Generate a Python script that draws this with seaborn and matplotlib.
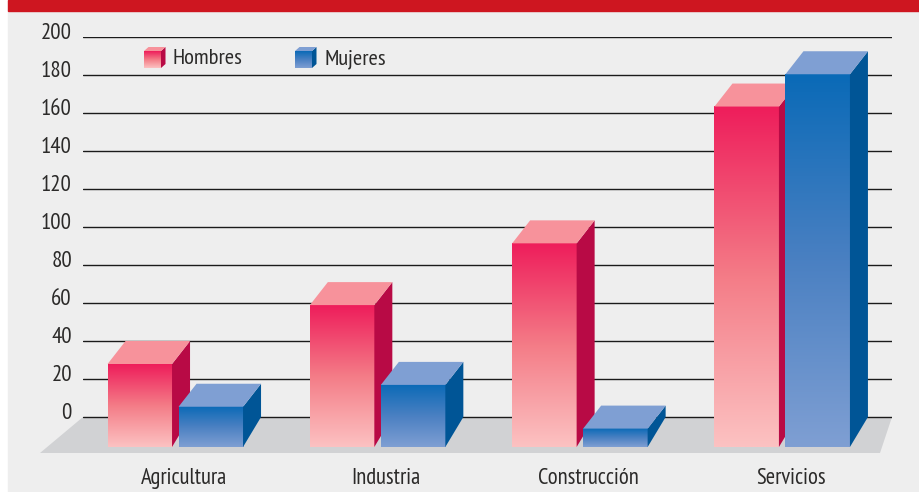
"""
Ocupados por sector y sexo, barras con aspecto 3D.
"""
import numpy as np
import pandas as pd
import matplotlib
matplotlib.use('Agg')
import matplotlib.pyplot as plt
import seaborn as sns
from matplotlib.colors import LinearSegmentedColormap
from matplotlib.patches import Polygon, Rectangle
from matplotlib.transforms import ScaledTranslation

sectores = ['Agricultura', 'Industria', 'Construcción', 'Servicios']
hombres = [40, 71, 103.5, 175.5]
mujeres = [17.5, 29, 6, 192.5]
ticks_y = [0, 20, 40, 60, 80, 100, 120, 140, 160, 180, 200]

FONDO = '#EEEEEE'
ROJO = {'cmap': ['#EE1D5B', '#F47C87', '#FCC2C2'], 'top': '#F7929B', 'side': '#B80A45'}
AZUL = {'cmap': ['#0A6AB7', '#4A80C2', '#7F9FD3'], 'top': '#7F9FD3', 'side': '#005596'}

sns.set_theme(style='white')
plt.rcParams['font.family'] = ['PT Sans Narrow', 'Liberation Sans', 'DejaVu Sans']

W, H = 920, 492
fig = plt.figure(figsize=(W / 100, H / 100), dpi=100, facecolor='white')
fig.patches.append(Rectangle((8 / W, 0), 1, 1, transform=fig.transFigure, color=FONDO, zorder=-10))
fig.patches.append(Rectangle((8 / W, 1 - 11 / H), 1, 11 / H, transform=fig.transFigure,
                             color='#CE1620', zorder=-9))

# ejes: y=200 en el pixel 37, y=0 en el 417, suelo delantero en el 453
ax = fig.add_axes([83 / W, 1 - 453 / H, (892 - 83) / W, (453 - 37) / H])
ax.patch.set_visible(False)

df = pd.DataFrame({
    'sector': sectores * 2,
    'sexo': ['Hombres'] * 4 + ['Mujeres'] * 4,
    'valor': hombres + mujeres,
})
sns.barplot(data=df, x='sector', y='valor', hue='sexo', hue_order=['Hombres', 'Mujeres'],
            width=0.702, gap=0.092, palette=['#EE1D5B', '#0A6AB7'], legend=False, ax=ax)

px_x, px_y = 202.3, 1.9
ax.set_xlim((83 - 175.3) / px_x, (892 - 175.3) / px_x)
ax.set_ylim(-36 / px_y, 200)
xlim, ylim = ax.get_xlim(), ax.get_ylim()


def a_datos(x, y):
    """Pasa un pixel de la imagen a coordenadas de datos."""
    return xlim[0] + (x - 83) / px_x, (417 - y) / px_y


def caja(x, ancho, base, tope, dx, dy_top, dy_base, estilo, z):
    """Dibuja la cara frontal con degradado, la lateral y la superior."""
    cmap = LinearSegmentedColormap.from_list('g', estilo['cmap'])
    grad = np.linspace(0, 1, 256).reshape(-1, 1)
    ax.imshow(grad, cmap=cmap, aspect='auto', extent=(x, x + ancho, base, tope),
              origin='upper', zorder=z, clip_on=False, interpolation='bilinear')
    der = x + ancho
    ax.add_patch(Polygon([(der, base), (der + dx, base + dy_base), (der + dx, tope + dy_top), (der, tope)],
                         closed=True, facecolor=estilo['side'], edgecolor='none', zorder=z, clip_on=False))
    ax.add_patch(Polygon([(x, tope), (x + dx, tope + dy_top), (der + dx, tope + dy_top), (der, tope)],
                         closed=True, facecolor=estilo['top'], edgecolor='none', zorder=z, clip_on=False))


# suelo gris
suelo = [a_datos(83, 417), a_datos(892, 417), a_datos(880, 453), a_datos(40, 453)]
ax.add_patch(Polygon(suelo, closed=True, facecolor='#D1D2D4', edgecolor='none', zorder=0.4, clip_on=False))

# las barras de seaborn dan la posicion y la altura; se rehacen con volumen
dx = 18 / px_x
dy_top = 23 / px_y
dy_base = 30 / px_y
for j, (cont, estilo) in enumerate(zip(ax.containers, [ROJO, AZUL])):
    for i, barra in enumerate(cont):
        x, ancho, valor = barra.get_x(), barra.get_width(), barra.get_height()
        barra.set_visible(False)
        caja(x, ancho, -dy_base, valor - dy_top, dx, dy_top, dy_base, estilo, 3 + i + j * 0.5)

# leyenda dibujada a mano con el mismo cubo
for x0, estilo, nombre, xt in [(144, ROJO, 'Hombres', 173), (295, AZUL, 'Mujeres', 324)]:
    xd, yb = a_datos(x0, 68)
    _, yt = a_datos(x0, 51)
    caja(xd, 17 / px_x, yb, yt, 4.5 / px_x, 4 / px_y, 4 / px_y, estilo, 20)
    ax.text(a_datos(xt, 0)[0], a_datos(0, 59)[1], nombre, fontsize=16.2, color='#2B2A29',
            va='center', ha='left', zorder=21)

ax.set_xlim(xlim)
ax.set_ylim(ylim)
ax.set_yticks(ticks_y)
ax.set_yticklabels([str(t) for t in ticks_y])
ax.set_xlabel('')
ax.set_ylabel('')
ax.set_axisbelow(True)
ax.grid(axis='y', color='#1A1A1A', linewidth=1.0, zorder=0.5)
ax.grid(axis='x', visible=False)
sns.despine(ax=ax, left=True, bottom=True)
ax.tick_params(axis='y', length=0, pad=8, labelsize=16.5, labelcolor='#2B2A29')
ax.tick_params(axis='x', length=0, pad=10.5, labelsize=16.3, labelcolor='#2B2A29')

# etiquetas un poco desplazadas respecto a las lineas y los grupos
sube = ScaledTranslation(0, 4 / 72, fig.dpi_scale_trans)
for et in ax.get_yticklabels():
    et.set_transform(et.get_transform() + sube)
derecha = ScaledTranslation(8.5 / 100, 0, fig.dpi_scale_trans)
for et in ax.get_xticklabels():
    et.set_transform(et.get_transform() + derecha)

fig.savefig('out.png', dpi=100)
plt.close(fig)
